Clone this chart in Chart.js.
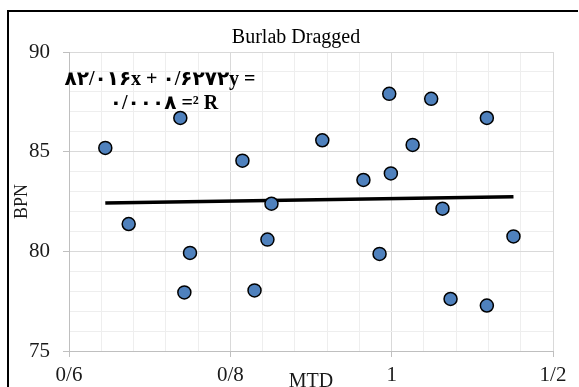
<!DOCTYPE html>
<html>
<head>
<meta charset="utf-8">
<script src="https://cdn.jsdelivr.net/npm/chart.js@4.4.1/dist/chart.umd.min.js"></script>
<style>
    html, body { margin: 0; padding: 0; background: #fff; overflow: hidden; }
    #wrap { position: absolute; left: 0; top: 0; width: 579px; height: 387px; overflow: hidden; }
    canvas { display: block; }
</style>
</head>
<body>
<div id="wrap"><canvas id="chart" width="579" height="387"></canvas></div>
<script>
const chartTitle = "Burlab Dragged";
const xTitle = "MTD";
const yTitle = "BPN";

// MTD / BPN measurements
const mtd = [0.645, 0.674, 0.738, 0.743, 0.750, 0.815, 0.830, 0.846, 0.851,
             0.914, 0.965, 0.985, 0.997, 0.999, 1.026, 1.049, 1.063, 1.073,
             1.118, 1.118, 1.151];
const bpn = [85.19, 81.37, 86.69, 77.94, 79.92, 84.55, 78.04, 80.59, 82.39,
             85.57, 83.58, 79.87, 87.90, 83.91, 85.34, 87.65, 82.14, 77.61,
             86.69, 77.28, 80.75];

// trendline from the equation label: y = 0.6272x + 82.016
const trendSlope = 0.6272;
const trendIntercept = 82.016;
const equationLines = ["۸۲/۰۱۶x + ۰/۶۲۷۲y =", "۰/۰۰۰۸ =² R"];

const xTickValues = [0.6, 0.8, 1, 1.2];
const xTickLabels = ["0/6", "0/8", "1", "1/2"];
const yTickValues = [75, 80, 85, 90];
const yTickLabels = ["75", "80", "85", "90"];

function findLabel(values, labels, v) {
    for (let i = 0; i < values.length; i++) {
        if (Math.abs(values[i] - v) < 1e-6) return labels[i];
    }
    return "";
}
function isMajor(values, ctx) {
    if (!ctx.tick) return false;
    return findLabel(values, values.map(String), ctx.tick.value) !== "";
}

const points = mtd.map((x, i) => ({ x: x, y: bpn[i] }));
const xMin = Math.min(...mtd);
const xMax = Math.max(...mtd);
const trend = [
    { x: xMin, y: trendSlope * xMin + trendIntercept },
    { x: xMax, y: trendSlope * xMax + trendIntercept }
];

// outer frame, title and equation text
const textPlugin = {
    id: "texts",
    beforeDraw(chart) {
        const ctx = chart.ctx;
        ctx.save();
        ctx.fillStyle = "#000";
        ctx.fillRect(7, 10, 2, chart.height - 10);
        ctx.fillRect(7, 10, chart.width - 8, 2);
        ctx.restore();
    },
    afterDraw(chart) {
        const ctx = chart.ctx;
        ctx.save();
        ctx.fillStyle = "#000";
        ctx.textAlign = "center";
        ctx.textBaseline = "middle";
        ctx.font = '20px "Liberation Serif"';
        ctx.fillText(chartTitle, 296, 38);
        ctx.font = 'bold 20px "Liberation Serif", "DejaVu Sans"';
        ctx.fillText(equationLines[0], 160, 80);
        ctx.fillText(equationLines[1], 164, 104);
        ctx.restore();
    }
};

const tickFont = { family: "Liberation Serif", size: 21 };

new Chart(document.getElementById("chart"), {
    type: "scatter",
    data: {
        datasets: [
            {
                data: points,
                backgroundColor: "#4f81bd",
                borderColor: "#000",
                borderWidth: 1.5,
                pointRadius: 6.5
            },
            {
                type: "line",
                data: trend,
                borderColor: "#000",
                borderWidth: 3.5,
                pointRadius: 0,
                fill: false
            }
        ]
    },
    options: {
        responsive: false,
        animation: false,
        events: [],
        layout: { padding: { left: 11, right: 26, top: 52, bottom: 0 } },
        plugins: { legend: { display: false }, tooltip: { enabled: false }, title: { display: false } },
        scales: {
            x: {
                type: "linear",
                min: 0.6,
                max: 1.2,
                afterFit: (s) => { s.height = 36; },
                ticks: {
                    stepSize: 0.04,
                    autoSkip: false,
                    maxRotation: 0,
                    padding: 6,
                    color: "#1a1a1a",
                    font: tickFont,
                    callback: (v) => findLabel(xTickValues, xTickLabels, v)
                },
                grid: {
                    lineWidth: 1,
                    tickLength: 6,
                    color: (c) => isMajor(xTickValues, c) ? "#d9d9d9" : "#eeeeee",
                    tickColor: (c) => isMajor(xTickValues, c) ? "#bfbfbf" : "rgba(0,0,0,0)"
                },
                border: { display: true, color: "#bfbfbf", width: 1 },
                title: { display: true, text: xTitle, color: "#1a1a1a", font: { family: "Liberation Serif", size: 20 }, padding: { top: 0, bottom: -7 } }
            },
            y: {
                min: 75,
                max: 90,
                afterFit: (s) => { s.width = 58; },
                ticks: {
                    stepSize: 1,
                    autoSkip: false,
                    padding: 13,
                    color: "#1a1a1a",
                    font: tickFont,
                    callback: (v) => findLabel(yTickValues, yTickLabels, v)
                },
                grid: {
                    lineWidth: 1,
                    tickLength: 6,
                    color: (c) => isMajor(yTickValues, c) ? "#d9d9d9" : "#eeeeee",
                    tickColor: (c) => isMajor(yTickValues, c) ? "#bfbfbf" : "rgba(0,0,0,0)"
                },
                border: { display: true, color: "#bfbfbf", width: 1 },
                title: { display: true, text: yTitle, color: "#1a1a1a", font: { family: "Liberation Serif", size: 18 }, padding: 0 }
            }
        }
    },
    plugins: [textPlugin]
});
</script>
</body>
</html>
